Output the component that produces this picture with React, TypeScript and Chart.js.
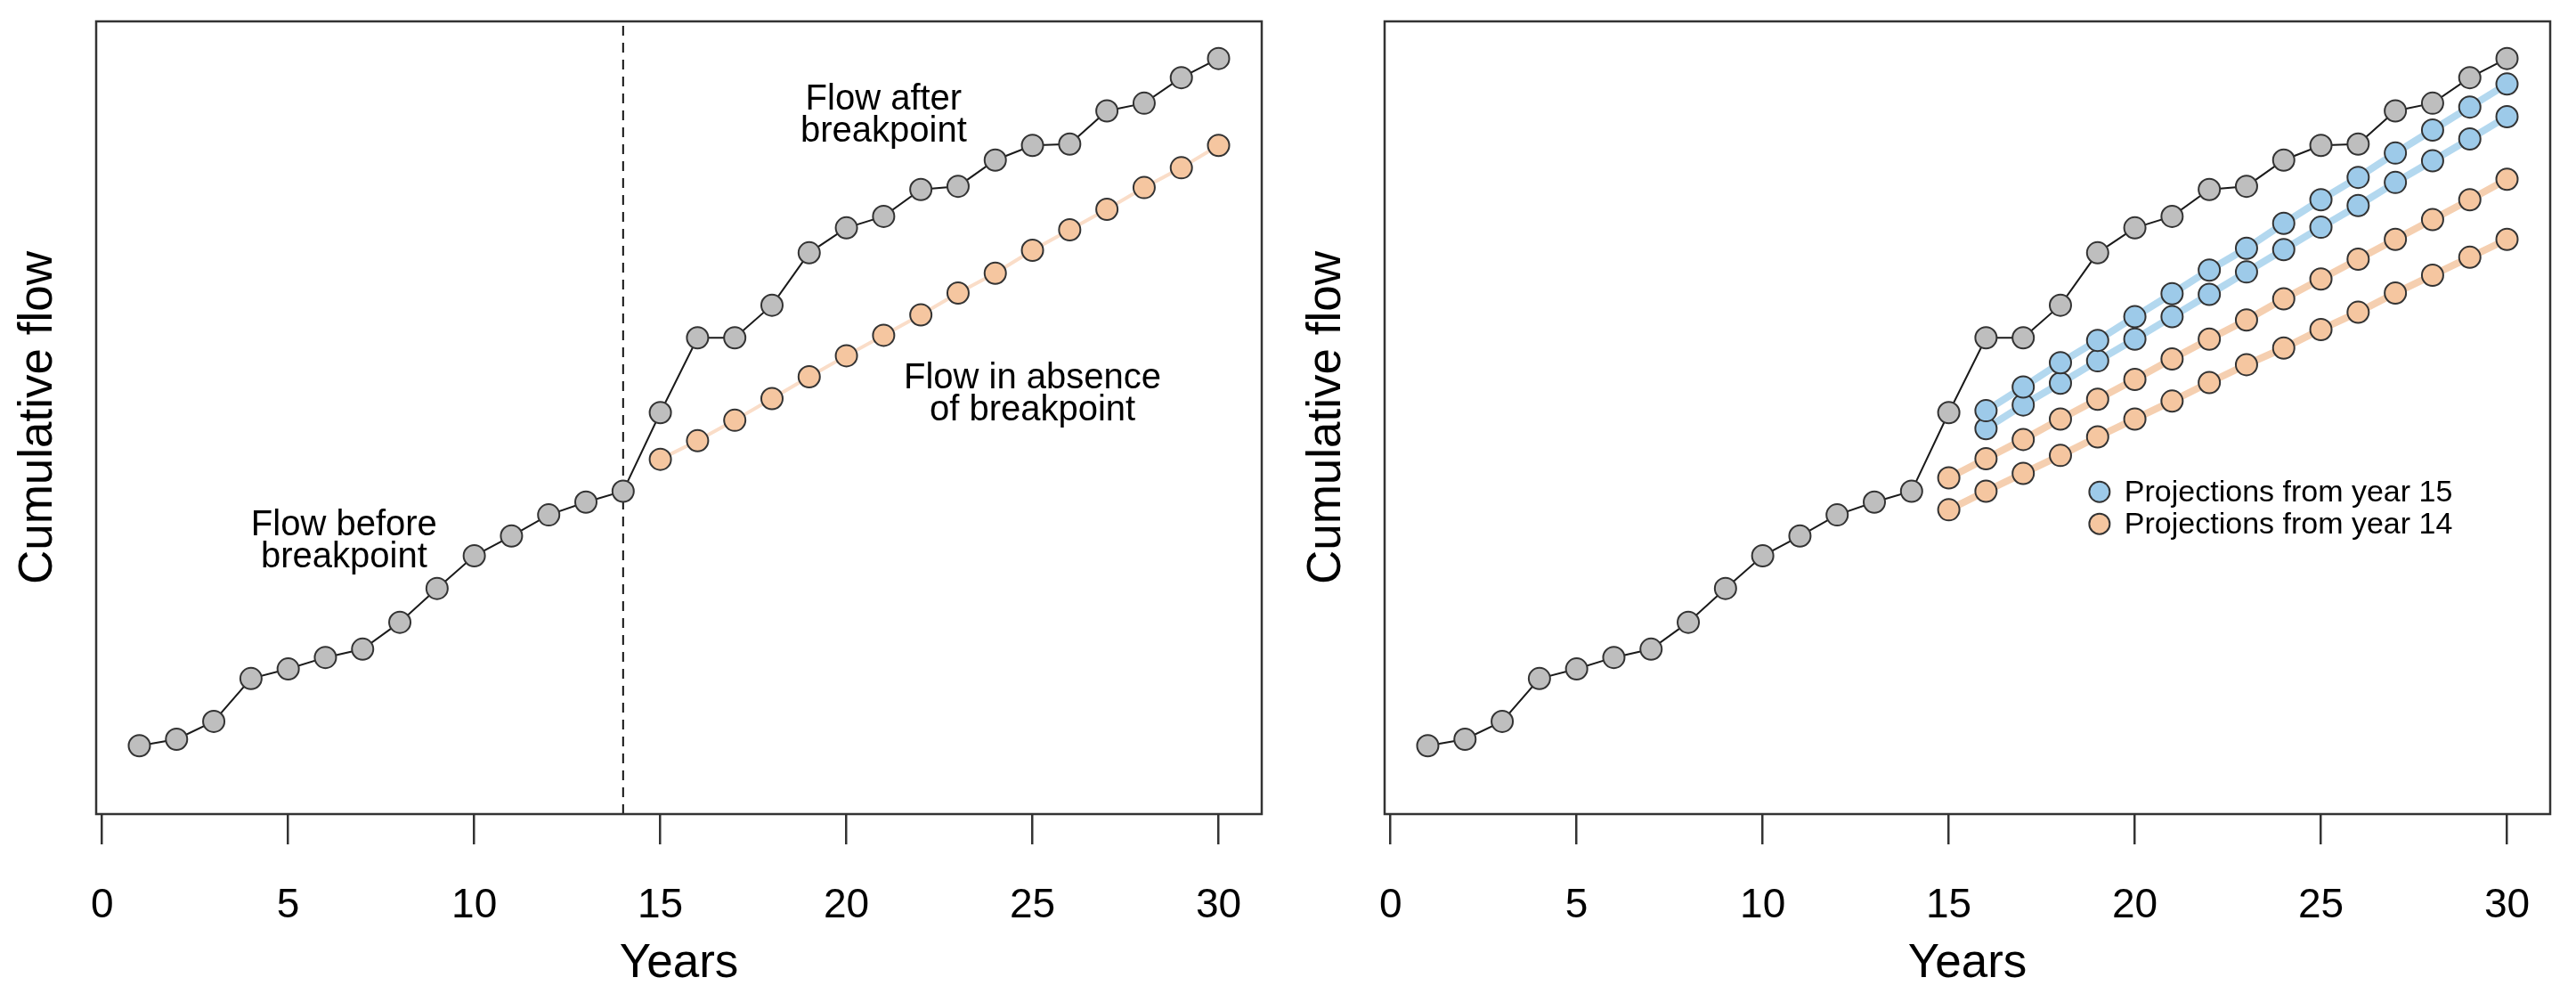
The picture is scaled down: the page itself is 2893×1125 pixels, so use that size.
import React, { useEffect, useRef } from "react";
import { Chart, registerables } from "chart.js";

Chart.register(...registerables);

// ---------------- data ----------------
const years = [1, 2, 3, 4, 5, 6, 7, 8, 9, 10, 11, 12, 13, 14, 15, 16, 17, 18, 19, 20, 21, 22, 23, 24, 25, 26, 27, 28, 29, 30];
const observedFlow = [107, 117, 145, 212, 227, 245, 258, 300, 353, 404, 435, 468, 488, 505, 628, 745, 745, 796, 878, 917, 935, 977, 982, 1023, 1046, 1048, 1100, 1112, 1152, 1182];

const absenceYears = [15, 16, 17, 18, 19, 20, 21, 22, 23, 24, 25, 26, 27, 28, 29, 30];
const absenceFlow = [555, 584, 616, 650, 684, 717, 749, 781, 815, 846, 882, 914, 946, 980, 1011, 1046];

const proj15Years = [16, 17, 18, 19, 20, 21, 22, 23, 24, 25, 26, 27, 28, 29, 30];
const proj15Upper = [631, 668, 706, 741, 778, 814, 851, 885, 924, 961, 996, 1034, 1070, 1106, 1142];
const proj15Lower = [603, 640, 674, 709, 743, 778, 813, 848, 883, 918, 952, 988, 1022, 1056, 1091];

const proj14Years = [15, 16, 17, 18, 19, 20, 21, 22, 23, 24, 25, 26, 27, 28, 29, 30];
const proj14Upper = [526, 556, 586, 618, 649, 680, 712, 743, 773, 806, 837, 868, 899, 930, 961, 993];
const proj14Lower = [476, 505, 533, 561, 590, 618, 646, 675, 703, 729, 758, 785, 815, 843, 871, 899];

const xTicks = [0, 5, 10, 15, 20, 25, 30];
const breakpointYear = 14;

const annotationTexts = [
  ["Flow before", "breakpoint"],
  ["Flow after", "breakpoint"],
  ["Flow in absence", "of breakpoint"],
];
const annotationX = [6.5, 21, 25];
const annotationY = [427, 1092, 656];

const legendLabels = ["Projections from year 15", "Projections from year 14"];

// ---------------- styles ----------------
const FONT = "'Liberation Sans', Arial, Helvetica, sans-serif";
const GREY_FILL = "#BEBEBE";
const ORANGE_FILL = "#F5C6A0";
const BLUE_FILL = "#9DCAE9";
const ORANGE_LINE_LEFT = "#FADDC8";
const ORANGE_LINE = "#F5CFB0";
const BLUE_LINE = "#B3D8EF";
const EDGE = "#333333";

const toXY = (xs: number[], ys: number[]) => xs.map((x, i) => ({ x, y: ys[i] }));

function pointStyle(fill: string) {
  return {
    pointRadius: 12,
    pointHoverRadius: 12,
    pointBorderWidth: 2,
    pointBorderColor: EDGE,
    pointBackgroundColor: fill,
  };
}

function makeScales() {
  return {
    x: {
      type: "linear" as const,
      min: -0.16,
      max: 31.16,
      afterBuildTicks: (s: any) => {
        s.ticks = xTicks.map((v) => ({ value: v }));
      },
      afterFit: (s: any) => {
        s.height = 211;
      },
      ticks: {
        font: { family: FONT, size: 46, lineHeight: 1.2 },
        color: "#000",
        padding: 42,
        maxRotation: 0,
        minRotation: 0,
        autoSkip: false,
        callback: (v: any) => String(v),
      },
      grid: {
        drawOnChartArea: false,
        drawTicks: true,
        tickLength: 34,
        color: EDGE,
        lineWidth: 2.5,
      },
      border: { display: false },
      title: {
        display: true,
        text: "Years",
        color: "#000",
        font: { family: FONT, size: 53, lineHeight: 1.2 },
        padding: { top: 0, bottom: 11 },
      },
    },
    y: {
      type: "linear" as const,
      min: 0,
      max: 1240,
      afterFit: (s: any) => {
        s.width = 108;
      },
      ticks: { display: false },
      grid: { display: false },
      border: { display: false },
      title: {
        display: true,
        text: "Cumulative flow",
        color: "#000",
        font: { family: FONT, size: 53, lineHeight: 1.2 },
        padding: { top: 12, bottom: 0 },
      },
    },
  };
}

const boxPlugin = {
  id: "rbox",
  afterDraw(chart: any) {
    const { ctx, chartArea } = chart;
    ctx.save();
    ctx.strokeStyle = EDGE;
    ctx.lineWidth = 2.5;
    ctx.strokeRect(chartArea.left, chartArea.top, chartArea.right - chartArea.left, chartArea.bottom - chartArea.top);
    ctx.restore();
  },
};

const breakpointPlugin = {
  id: "breakpointLine",
  beforeDatasetsDraw(chart: any) {
    const { ctx, chartArea, scales } = chart;
    const px = scales.x.getPixelForValue(breakpointYear);
    ctx.save();
    ctx.strokeStyle = "#111";
    ctx.lineWidth = 2;
    ctx.setLineDash([11, 8]);
    ctx.beginPath();
    ctx.moveTo(px, chartArea.bottom);
    ctx.lineTo(px, chartArea.top);
    ctx.stroke();
    ctx.restore();
  },
};

const annotationPlugin = {
  id: "annotations",
  afterDatasetsDraw(chart: any) {
    const { ctx, scales } = chart;
    ctx.save();
    ctx.fillStyle = "#000";
    ctx.font = `40px ${FONT}`;
    ctx.textAlign = "center";
    ctx.textBaseline = "middle";
    const spacing = 36;
    annotationTexts.forEach((lines, i) => {
      const cx = scales.x.getPixelForValue(annotationX[i]);
      const cy = scales.y.getPixelForValue(annotationY[i]);
      const n = lines.length;
      lines.forEach((t, j) => {
        ctx.fillText(t, cx, cy + (j - (n - 1) / 2) * spacing);
      });
    });
    ctx.restore();
  },
};

const legendPlugin = {
  id: "rlegend",
  afterDatasetsDraw(chart: any) {
    const { ctx, scales } = chart;
    const fills = [BLUE_FILL, ORANGE_FILL];
    const rowY = [504, 454];
    const mx = scales.x.getPixelForValue(19.05);
    const tx = scales.x.getPixelForValue(19.72);
    ctx.save();
    ctx.font = `34px ${FONT}`;
    ctx.textAlign = "left";
    ctx.textBaseline = "middle";
    legendLabels.forEach((label, i) => {
      const y = scales.y.getPixelForValue(rowY[i]);
      ctx.beginPath();
      ctx.arc(mx, y, 11.5, 0, Math.PI * 2);
      ctx.fillStyle = fills[i];
      ctx.fill();
      ctx.lineWidth = 2;
      ctx.strokeStyle = EDGE;
      ctx.stroke();
      ctx.fillStyle = "#000";
      ctx.fillText(label, tx, y + 1);
    });
    ctx.restore();
  },
};

function baseOptions() {
  return {
    responsive: false,
    maintainAspectRatio: false,
    animation: false as const,
    devicePixelRatio: 1,
    layout: { padding: { top: 24, right: 29, bottom: 0, left: 0 } },
    plugins: { legend: { display: false }, tooltip: { enabled: false } },
    events: [] as any[],
    scales: makeScales(),
  };
}

const W = 1446;
const H = 1125;

export default function App() {
  const leftRef = useRef<HTMLCanvasElement | null>(null);
  const rightRef = useRef<HTMLCanvasElement | null>(null);

  useEffect(() => {
    if (!leftRef.current || !rightRef.current) return;

    const left = new Chart(leftRef.current, {
      type: "line",
      data: {
        datasets: [
          {
            data: toXY(years, observedFlow),
            borderColor: "#1a1a1a",
            borderWidth: 2,
            ...pointStyle(GREY_FILL),
            order: 0,
          },
          {
            data: toXY(absenceYears, absenceFlow),
            borderColor: ORANGE_LINE_LEFT,
            borderWidth: 4,
            ...pointStyle(ORANGE_FILL),
            order: 1,
          },
        ],
      },
      options: baseOptions() as any,
      plugins: [breakpointPlugin, boxPlugin, annotationPlugin],
    });

    const right = new Chart(rightRef.current, {
      type: "line",
      data: {
        datasets: [
          {
            data: toXY(years, observedFlow),
            borderColor: "#1a1a1a",
            borderWidth: 2,
            ...pointStyle(GREY_FILL),
            order: 0,
          },
          {
            data: toXY(proj15Years, proj15Upper),
            borderColor: BLUE_LINE,
            borderWidth: 8,
            ...pointStyle(BLUE_FILL),
            order: 1,
          },
          {
            data: toXY(proj15Years, proj15Lower),
            borderColor: BLUE_LINE,
            borderWidth: 8,
            ...pointStyle(BLUE_FILL),
            order: 2,
          },
          {
            data: toXY(proj14Years, proj14Upper),
            borderColor: ORANGE_LINE,
            borderWidth: 8,
            ...pointStyle(ORANGE_FILL),
            order: 3,
          },
          {
            data: toXY(proj14Years, proj14Lower),
            borderColor: ORANGE_LINE,
            borderWidth: 8,
            ...pointStyle(ORANGE_FILL),
            order: 4,
          },
        ],
      },
      options: baseOptions() as any,
      plugins: [boxPlugin, legendPlugin],
    });

    return () => {
      left.destroy();
      right.destroy();
    };
  }, []);

  return (
    <div style={{ position: "absolute", left: 0, top: 0, width: 2893, height: H, background: "#fff" }}>
      <canvas ref={leftRef} width={W} height={H} style={{ position: "absolute", left: 0, top: 0, width: W, height: H }} />
      <canvas ref={rightRef} width={W} height={H} style={{ position: "absolute", left: 1447, top: 0, width: W, height: H }} />
    </div>
  );
}
